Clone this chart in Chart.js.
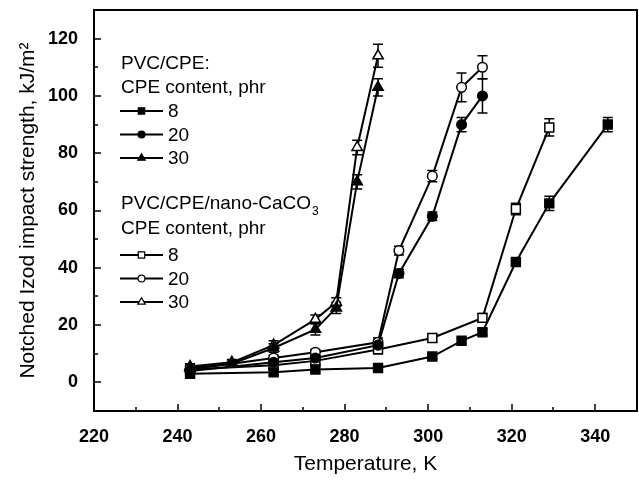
<!DOCTYPE html>
<html>
<head>
<meta charset="utf-8">
<script src="https://cdn.jsdelivr.net/npm/chart.js@4/dist/chart.umd.min.js"></script>
<style>
  html, body { margin: 0; padding: 0; background: #fff; }
  canvas { display: block; }
</style>
</head>
<body>
<canvas id="grafik" width="639" height="481"></canvas>
<script>
// -------- DATA --------
// PVC/CPE
const cpe8T = [243, 263, 273, 288, 301, 308, 313, 321, 329, 343];
const cpe8Y = [3, 3.5, 4.5, 5, 9, 14.5, 17.5, 42, 62.5, 90];
const cpe8Err = [1, 1, 1, 1, 1, 1, 1, 1, 2.5, 2.5];

const cpe20T = [243, 263, 273, 288, 293, 301, 308, 313];
const cpe20Y = [4, 7, 8.5, 13, 38, 58, 90, 100];
const cpe20Err = [1, 1, 1, 1.5, 1.5, 1.5, 2.5, 6];

const cpe30T = [243, 253, 263, 273, 278, 283, 288];
const cpe30Y = [5, 6.5, 12, 18.5, 26, 70, 103];
const cpe30Err = [1, 1, 1.5, 2, 2, 2.5, 3];

// PVC/CPE/nano-CaCO3
const nano8T = [243, 263, 273, 288, 301, 313, 321, 329];
const nano8Y = [4.5, 6, 7.5, 11.5, 15.5, 22.5, 60.5, 89];
const nano8Err = [1, 1, 1, 1.5, 1.5, 1.5, 2, 3];

const nano20T = [243, 263, 273, 288, 293, 301, 308, 313];
const nano20Y = [4.5, 8.5, 10.5, 14, 46, 72, 103, 110];
const nano20Err = [1, 1, 1, 1.5, 1.5, 2, 5, 4];

const nano30T = [243, 253, 263, 273, 278, 283, 288];
const nano30Y = [5.5, 7, 13, 22, 28, 82, 114];
const nano30Err = [1, 1, 1.5, 1.5, 1.5, 2.5, 4];

const contentLabels = ["8", "20", "30"];
const xTickLabels = [220, 240, 260, 280, 300, 320, 340];
const yTickLabels = [0, 20, 40, 60, 80, 100, 120];

const FONT = "'Liberation Sans', Arial, sans-serif";

function seri(label, xs, ys, errs, style, radius, filled) {
    return {
        label: label,
        data: xs.map((x, i) => ({ x: x, y: ys[i] })),
        err: errs,
        showLine: true,
        borderColor: "#000",
        borderWidth: 2,
        pointStyle: style,
        pointRadius: radius,
        pointBorderWidth: 1.5,
        pointBorderColor: "#000",
        pointBackgroundColor: filled ? "#000" : "#fff",
        filled: filled
    };
}

const datasets = [
    seri("8", cpe8T, cpe8Y, cpe8Err, "rect", 6.3, true),
    seri("20", cpe20T, cpe20Y, cpe20Err, "circle", 4.8, true),
    seri("30", cpe30T, cpe30Y, cpe30Err, "triangle", 6, true),
    seri("8", nano8T, nano8Y, nano8Err, "rect", 6.3, false),
    seri("20", nano20T, nano20Y, nano20Err, "circle", 4.8, false),
    seri("30", nano30T, nano30Y, nano30Err, "triangle", 6, false)
];

// -------- ERROR BARS --------
const errorBars = {
    id: "errorBars",
    beforeDatasetsDraw(chart) {
        const ctx = chart.ctx;
        const xs = chart.scales.x, ys = chart.scales.y;
        ctx.save();
        ctx.strokeStyle = "#000";
        ctx.lineWidth = 1.5;
        chart.data.datasets.forEach(ds => {
            ds.data.forEach((p, i) => {
                const e = ds.err[i];
                const px = xs.getPixelForValue(p.x);
                const top = ys.getPixelForValue(p.y + e);
                const bot = ys.getPixelForValue(p.y - e);
                ctx.beginPath();
                ctx.moveTo(px, top); ctx.lineTo(px, bot);
                ctx.moveTo(px - 5, top); ctx.lineTo(px + 5, top);
                ctx.moveTo(px - 5, bot); ctx.lineTo(px + 5, bot);
                ctx.stroke();
            });
        });
        ctx.restore();
    }
};

// -------- FRAME + TICKS --------
const frame = {
    id: "frame",
    afterDraw(chart) {
        const ctx = chart.ctx;
        const a = chart.chartArea;
        const xs = chart.scales.x, ys = chart.scales.y;
        ctx.save();
        ctx.strokeStyle = "#000";
        ctx.lineWidth = 2;
        ctx.strokeRect(a.left, a.top, a.right - a.left, a.bottom - a.top);
        ctx.lineWidth = 1.5;
        ctx.beginPath();
        for (let v = xs.min + 10; v < xs.max; v += 10) {
            const px = Math.round(xs.getPixelForValue(v));
            const len = v % 20 === 0 ? 7 : 4;
            ctx.moveTo(px, a.bottom); ctx.lineTo(px, a.bottom - len);
        }
        for (let v = ys.min + 10; v < ys.max; v += 10) {
            const py = Math.round(ys.getPixelForValue(v));
            const len = v % 20 === 0 ? 7 : 4;
            ctx.moveTo(a.left, py); ctx.lineTo(a.left + len, py);
        }
        ctx.stroke();
        ctx.restore();
    }
};

// -------- LEGEND --------
const legendBox = {
    id: "legendBox",
    afterDraw(chart) {
        const ctx = chart.ctx;
        const ds = chart.data.datasets;
        ctx.save();
        ctx.fillStyle = "#000";
        ctx.font = "19px " + FONT;
        ctx.textBaseline = "middle";
        ctx.textAlign = "left";

        function rows(startY, group) {
            group.forEach((d, i) => {
                const y = startY + i * 23.5;
                ctx.strokeStyle = "#000";
                ctx.lineWidth = 2;
                ctx.beginPath();
                ctx.moveTo(120, y); ctx.lineTo(163, y);
                ctx.stroke();
                ctx.fillStyle = d.pointBackgroundColor;
                ctx.lineWidth = 1.2;
                Chart.helpers.drawPoint(ctx, {
                    pointStyle: d.pointStyle,
                    radius: d.pointRadius * 0.72,
                    borderWidth: 1.2,
                    rotation: 0
                }, 141.5, y);
                ctx.fillStyle = "#000";
                ctx.fillText(contentLabels[i], 168, y + 1);
            });
        }

        ctx.fillText("PVC/CPE:", 121, 64);
        ctx.fillText("CPE content, phr", 121, 88);
        rows(111, ds.slice(0, 3));

        const head = "PVC/CPE/nano-CaCO";
        ctx.fillText(head, 121, 204);
        const w = ctx.measureText(head).width;
        ctx.font = "12px " + FONT;
        ctx.fillText("3", 121 + w + 1, 212);
        ctx.font = "19px " + FONT;
        ctx.fillText("CPE content, phr", 121, 229);
        rows(255, ds.slice(3, 6));
        ctx.restore();
    }
};

function noPad(s) {
    s.paddingLeft = 0;
    s.paddingRight = 0;
    s.paddingTop = 0;
    s.paddingBottom = 0;
}

// -------- CHART --------
new Chart(document.getElementById("grafik"), {
    type: "scatter",
    data: { datasets: datasets },
    options: {
        responsive: false,
        animation: false,
        layout: { autoPadding: false, padding: { top: 10, right: 2, left: 0, bottom: 0 } },
        plugins: { legend: { display: false }, tooltip: { enabled: false } },
        scales: {
            x: {
                type: "linear",
                min: 220,
                max: 350,
                afterFit(s) { s.height = 70; noPad(s); },
                afterBuildTicks(s) {
                    s.ticks = xTickLabels.map(v => ({ value: v }));
                },
                grid: { display: false },
                border: { display: false },
                ticks: {
                    color: "#000",
                    padding: 7,
                    maxRotation: 0,
                    font: { family: FONT, size: 18, weight: "bold" }
                },
                title: {
                    display: true,
                    text: "Temperature, K",
                    color: "#000",
                    padding: { top: 0, bottom: 4 },
                    font: { family: FONT, size: 21 }
                }
            },
            y: {
                type: "linear",
                min: -10,
                max: 130,
                afterFit(s) { s.width = 94; noPad(s); },
                afterBuildTicks(s) {
                    s.ticks = yTickLabels.map(v => ({ value: v }));
                },
                grid: { display: false },
                border: { display: false },
                ticks: {
                    color: "#000",
                    padding: 8,
                    font: { family: FONT, size: 18, weight: "bold" }
                },
                title: {
                    display: true,
                    text: "Notched Izod impact strength, kJ/m\u00B2",
                    color: "#000",
                    padding: { top: 16, bottom: 0 },
                    font: { family: FONT, size: 21 }
                }
            }
        }
    },
    plugins: [errorBars, frame, legendBox]
});
</script>
</body>
</html>
